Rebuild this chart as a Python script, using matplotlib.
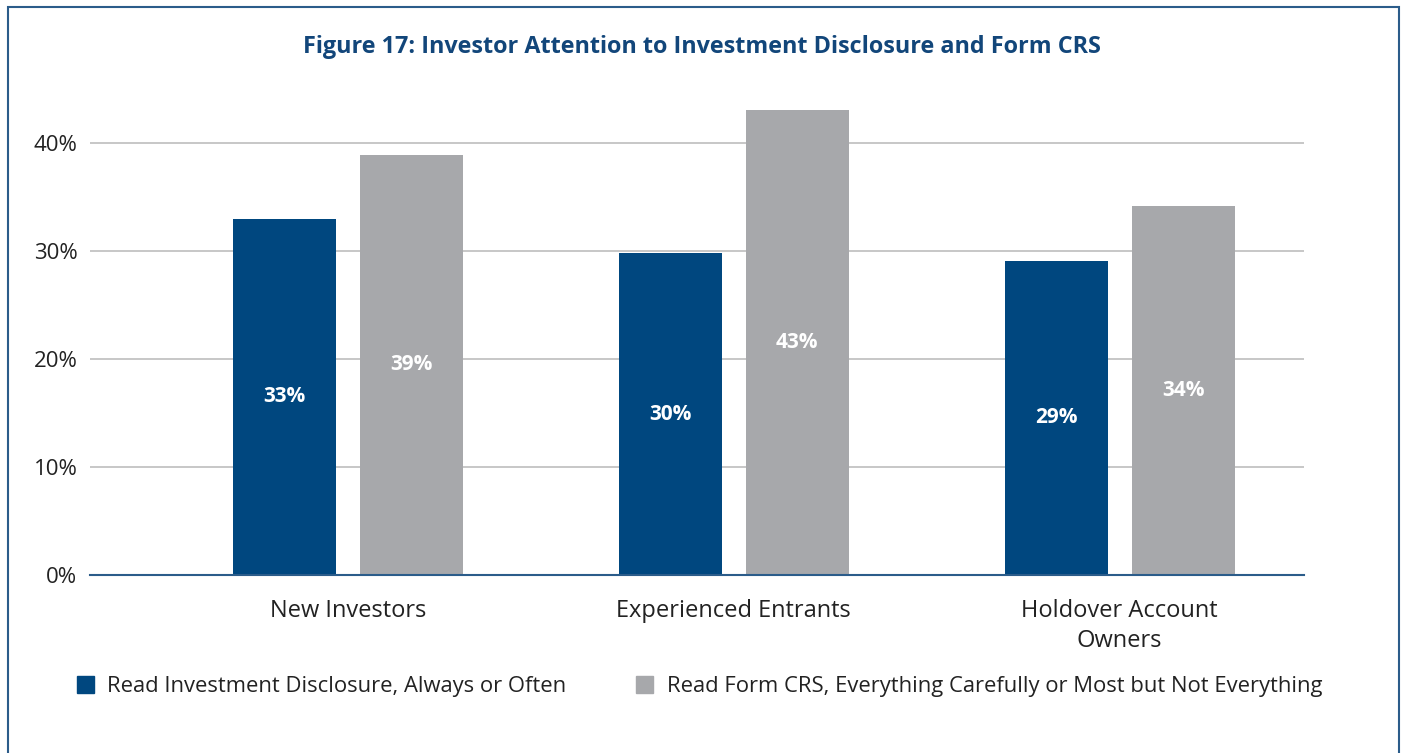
import numpy as np
import matplotlib.pyplot as plt
from matplotlib.patches import Rectangle, Patch

plt.rcParams['font.family'] = ['Open Sans', 'DejaVu Sans']

# -- Datos --
categorias = ['New Investors', 'Experienced Entrants', 'Holdover Account\nOwners']
disclosure = [33.0, 29.8, 29.1]   # Read Investment Disclosure, Always or Often
form_crs = [38.9, 43.1, 34.2]     # Read Form CRS, Everything Carefully or Most...
serie_1 = 'Read Investment Disclosure, Always or Often'
serie_2 = 'Read Form CRS, Everything Carefully or Most but Not Everything'
yticks = [0, 10, 20, 30, 40]

azul = '#00477F'
gris = '#A7A8AB'
titulo_color = '#12467A'

fig = plt.figure(figsize=(14.03, 7.53), dpi=100)
ax = fig.add_axes([0.0641, 0.2364, 0.8653, 0.6454])

x = np.arange(len(categorias))
w = 0.267
off = 0.1646
b1 = ax.bar(x - off, disclosure, w, color=azul, zorder=3)
b2 = ax.bar(x + off, form_crs, w, color=gris, zorder=3)

# Etiquetas dentro de las barras
for bars, vals in ((b1, disclosure), (b2, form_crs)):
    for b, v in zip(bars, vals):
        ax.text(b.get_x() + b.get_width() / 2, v / 2, f'{round(v)}%',
                ha='center', va='center', color='white', fontsize=15,
                fontweight='bold', zorder=4)

ax.set_xlim(-0.669, 2.478)
ax.set_ylim(0, 45)
ax.set_yticks(yticks)
ax.set_yticklabels([f'{t}%' for t in yticks])
ax.set_xticks(x)
ax.set_xticklabels(categorias, linespacing=1.35)
ax.tick_params(axis='y', length=0, pad=9, labelsize=16, labelcolor='#222222')
ax.tick_params(axis='x', length=0, pad=17, labelsize=17, labelcolor='#222222')

for t in yticks[1:]:
    ax.axhline(t, color='#BEBEBE', linewidth=1.2, zorder=1)
for s in ['top', 'right', 'left']:
    ax.spines[s].set_visible(False)
ax.spines['bottom'].set_color('#2B5C8A')
ax.spines['bottom'].set_linewidth(1.5)
ax.spines['bottom'].set_zorder(5)

fig.text(0.5, 0.938, 'Figure 17: Investor Attention to Investment Disclosure and Form CRS',
         ha='center', va='center', fontsize=16.8, fontweight='bold', color=titulo_color)

handles = [Patch(color=azul, label=serie_1), Patch(color=gris, label=serie_2)]
fig.legend(handles=handles, loc='center left', bbox_to_anchor=(0.0406, 0.088),
           ncol=2, frameon=False, fontsize=15.8, handlelength=0.78, handleheight=0.78,
           handletextpad=0.6, columnspacing=3.2, labelcolor='#222222')

# Marco exterior
fig.patches.append(Rectangle((8 / 1403, -0.05), (1399 - 8) / 1403, 1.05 - 7 / 753,
                             transform=fig.transFigure, fill=False,
                             edgecolor='#2B5C8A', linewidth=1.5))

fig.savefig('out.png', dpi=100)
